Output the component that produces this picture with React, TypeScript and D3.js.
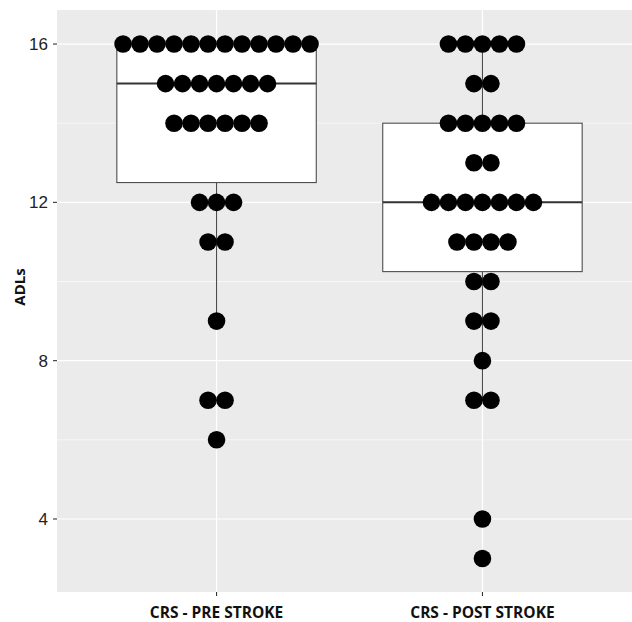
import React from "react";
import * as d3 from "d3";

const categories = ["CRS - PRE STROKE", "CRS - POST STROKE"];
// values and counts for each group (read from dot stacks)
const preValues = [16, 15, 14, 12, 11, 9, 7, 6];
const preCounts = [12, 7, 6, 3, 2, 1, 2, 1];
const postValues = [16, 15, 14, 13, 12, 11, 10, 9, 8, 7, 4, 3];
const postCounts = [5, 2, 5, 2, 7, 4, 2, 2, 1, 2, 1, 1];
const yTicks = [4, 8, 12, 16];
const yMinor = [6, 10, 14];
const yTitle = "ADLs";

const W = 632;
const H = 622;
const panel = { left: 57, top: 10, right: 632, bottom: 592 };

function expand(values: number[], counts: number[]) {
  const out: number[] = [];
  values.forEach((v, i) => {
    for (let k = 0; k < counts[i]; k++) out.push(v);
  });
  return out.sort((a, b) => a - b);
}

function boxStats(data: number[]) {
  const q1 = d3.quantile(data, 0.25)!;
  const med = d3.quantile(data, 0.5)!;
  const q3 = d3.quantile(data, 0.75)!;
  const iqr = q3 - q1;
  const lo = d3.min(data.filter((d) => d >= q1 - 1.5 * iqr))!;
  const hi = d3.max(data.filter((d) => d <= q3 + 1.5 * iqr))!;
  return { q1, med, q3, lo, hi };
}

export default function App() {
  const y = d3.scaleLinear().domain([2.155, 16.86]).range([panel.bottom, panel.top]);
  const x = d3.scaleLinear().domain([0.4, 2.6]).range([57, 642]);
  const groups = [
    { values: preValues, counts: preCounts },
    { values: postValues, counts: postCounts },
  ];
  const unit = x(2) - x(1);
  const boxW = 0.75 * unit;
  const r = 8.8;
  const step = 17;

  return (
    <svg
      width={W}
      height={H}
      style={{ position: "absolute", left: 0, top: 0, background: "#fff" }}
    >
      <rect
        x={panel.left}
        y={panel.top}
        width={panel.right - panel.left}
        height={panel.bottom - panel.top}
        fill="#EBEBEB"
      />
      {yMinor.map((t) => (
        <line key={"m" + t} x1={panel.left} x2={panel.right} y1={y(t)} y2={y(t)} stroke="#fff" strokeWidth={0.6} />
      ))}
      {yTicks.map((t) => (
        <line key={"g" + t} x1={panel.left} x2={panel.right} y1={y(t)} y2={y(t)} stroke="#fff" strokeWidth={1.2} />
      ))}
      {categories.map((c, i) => (
        <line key={"v" + i} x1={x(i + 1)} x2={x(i + 1)} y1={panel.top} y2={panel.bottom} stroke="#fff" strokeWidth={1.2} />
      ))}
      {groups.map((g, i) => {
        const data = expand(g.values, g.counts);
        const s = boxStats(data);
        const cx = x(i + 1);
        return (
          <g key={"b" + i}>
            <line x1={cx} x2={cx} y1={y(s.hi)} y2={y(s.q3)} stroke="#4d4d4d" strokeWidth={1.1} />
            <line x1={cx} x2={cx} y1={y(s.q1)} y2={y(s.lo)} stroke="#4d4d4d" strokeWidth={1.1} />
            <rect
              x={cx - boxW / 2}
              y={y(s.q3)}
              width={boxW}
              height={y(s.q1) - y(s.q3)}
              fill="#fff"
              stroke="#4d4d4d"
              strokeWidth={1.1}
            />
            <line x1={cx - boxW / 2} x2={cx + boxW / 2} y1={y(s.med)} y2={y(s.med)} stroke="#333" strokeWidth={2} />
            {g.values.map((v, j) => {
              const n = g.counts[j];
              return d3.range(n).map((k) => (
                <circle
                  key={"d" + j + "_" + k}
                  cx={cx + (k - (n - 1) / 2) * step}
                  cy={y(v)}
                  r={r}
                  fill="#000"
                />
              ));
            })}
          </g>
        );
      })}
      {yTicks.map((t) => (
        <g key={"t" + t}>
          <line x1={panel.left - 4} x2={panel.left} y1={y(t)} y2={y(t)} stroke="#333" strokeWidth={1.1} />
          <text
            x={panel.left - 9}
            y={y(t)}
            dy="0.36em"
            textAnchor="end"
            fontFamily="Liberation Sans, Arial, sans-serif"
            fontSize={17}
            fill="#222"
          >
            {t}
          </text>
        </g>
      ))}
      {categories.map((c, i) => (
        <g key={"x" + i}>
          <line x1={x(i + 1)} x2={x(i + 1)} y1={panel.bottom} y2={panel.bottom + 4} stroke="#333" strokeWidth={1.1} />
          <text
            x={x(i + 1)}
            y={618}
            textAnchor="middle"
            fontFamily="Open Sans, sans-serif"
            fontWeight="bold"
            fontSize={15.5}
            fill="#111"
          >
            {c}
          </text>
        </g>
      ))}
      <text
        transform={`translate(25, 287) rotate(-90)`}
        textAnchor="middle"
        fontFamily="Open Sans, sans-serif"
        fontWeight="bold"
        fontSize={15}
        fill="#111"
      >
        {yTitle}
      </text>
    </svg>
  );
}
